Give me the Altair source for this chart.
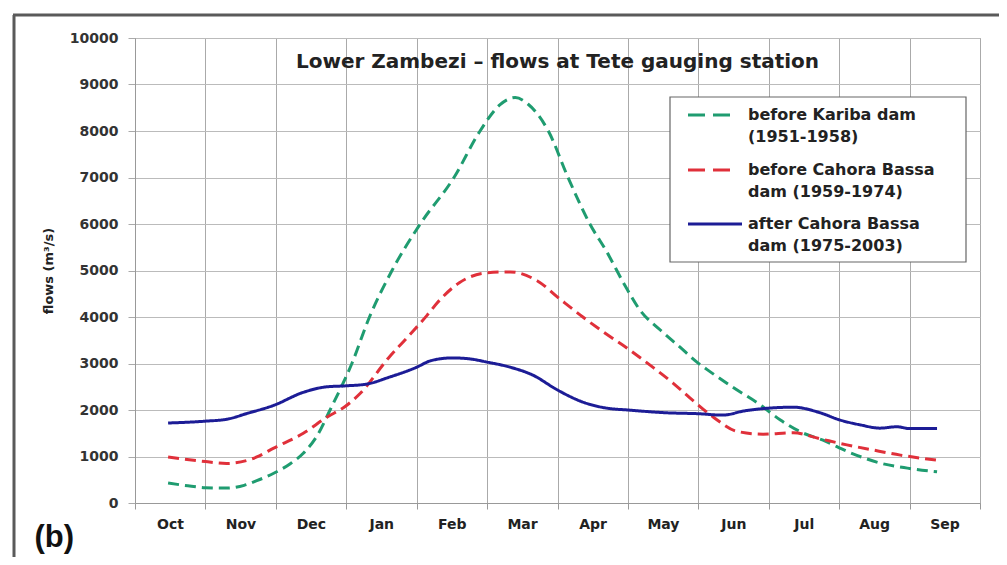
import altair as alt
import pandas as pd

chart_title = "Lower Zambezi – flows at Tete gauging station"
months = ["Oct", "Nov", "Dec", "Jan", "Feb", "Mar", "Apr", "May", "Jun", "Jul", "Aug", "Sep"]
series_lines = [
    ["before Kariba dam", "(1951-1958)"],
    ["before Cahora Bassa", "dam (1959-1974)"],
    ["after Cahora Bassa", "dam (1975-2003)"],
]
series_names = [" ".join(s) for s in series_lines]
series_colors = ["#1f9c70", "#e0303a", "#1c1c96"]
series_dash = [[11, 6], [11, 6], [1, 0]]

# position in months from start of October (Oct centre = 0.5)
kariba_pos = [0.47, 0.75, 1.0, 1.3, 1.55, 1.73, 1.97, 2.2, 2.39, 2.6, 2.77, 3.08, 3.33, 3.65,
              4.05, 4.53, 4.9, 5.18, 5.4, 5.58, 5.87, 6.15, 6.46, 6.7, 6.95, 7.17, 7.46, 7.74,
              7.98, 8.17, 8.49, 8.88, 9.16, 9.45, 9.77, 10.16, 10.58, 10.97, 11.39]
kariba_flow = [430, 370, 330, 320, 380, 480, 640, 840, 1070, 1480, 2000, 3000, 4000, 5000,
               6000, 7000, 8000, 8560, 8720, 8580, 8000, 7000, 6000, 5400, 4700, 4150, 3720, 3350,
               3030, 2820, 2490, 2110, 1790, 1530, 1350, 1080, 860, 750, 670]

cahora_pre_pos = [0.47, 1.0, 1.3, 1.73, 1.97, 2.39, 2.73, 2.98, 3.2, 3.6, 3.86, 4.15, 4.29, 4.6,
                  4.99, 5.33, 5.71, 6.04, 6.36, 6.65, 6.99, 7.31, 7.64, 7.88, 8.21, 8.55, 8.92,
                  9.35, 9.73, 10.11, 10.48, 10.87, 11.39]
cahora_pre_flow = [990, 890, 850, 990, 1180, 1500, 1850, 2070, 2360, 3120, 3550, 4040, 4300, 4730,
                   4950, 4970, 4780, 4380, 4000, 3680, 3330, 2970, 2580, 2260, 1850, 1540, 1480,
                   1510, 1380, 1250, 1140, 1030, 920]

cahora_post_pos = [0.47, 1.0, 1.3, 1.6, 1.97, 2.39, 2.73, 3.0, 3.3, 3.6, 4.0, 4.2, 4.5, 4.75,
                   5.0, 5.33, 5.65, 6.0, 6.36, 6.7, 7.0, 7.55, 8.0, 8.35, 8.65, 9.0, 9.35, 9.73,
                   10.0, 10.3, 10.58, 10.82, 11.0, 11.39]
cahora_post_flow = [1720, 1760, 1800, 1930, 2100, 2380, 2500, 2520, 2560, 2700, 2920, 3060, 3120, 3100,
                    3030, 2920, 2750, 2430, 2170, 2040, 2000, 1940, 1920, 1890, 1980, 2040, 2060, 1940,
                    1790, 1680, 1610, 1640, 1600, 1600]

rows = []
for name, pos, flow in [
    (series_names[0], kariba_pos, kariba_flow),
    (series_names[1], cahora_pre_pos, cahora_pre_flow),
    (series_names[2], cahora_post_pos, cahora_post_flow),
]:
    for p, f in zip(pos, flow):
        rows.append({"series": name, "m": p, "flow": f})
df = pd.DataFrame(rows)

month_expr = "[" + ",".join("'%s'" % m for m in months) + ",''][datum.value]"

FONT = "DejaVu Sans"
W, H = 845, 465

lines = alt.Chart(df).mark_line(strokeWidth=3, interpolate="monotone").encode(
    x=alt.X(
        "m:Q",
        scale=alt.Scale(domain=[0, 12], nice=False, zero=False),
        axis=alt.Axis(
            values=list(range(13)),
            labelExpr=month_expr,
            labelOffset=35,
            labelFlush=False,
            labelOverlap=False,
            labelPadding=8,
            labelFontSize=14,
            labelFontWeight="bold",
            labelColor="#222",
            tickSize=6,
            tickColor="#999",
            domainColor="#999",
            gridColor="#aaaaaa",
            title="(b)",
            titleFontSize=31,
            titleFontWeight="bold",
            titleFont="Liberation Sans",
            titleColor="#111",
            titleAlign="left",
            titleBaseline="middle",
            titleAnchor="start",
            titleX=-101,
            titleY=34,
        ),
    ),
    y=alt.Y(
        "flow:Q",
        scale=alt.Scale(domain=[0, 10000], nice=False),
        axis=alt.Axis(
            values=list(range(0, 10001, 1000)),
            format="d",
            labelFontSize=14,
            labelFontWeight="bold",
            labelColor="#333",
            labelPadding=10,
            tickSize=7,
            tickColor="#aaa",
            domainColor="#999",
            gridColor="#bbbbbb",
            title="flows (m³/s)",
            titleFontSize=13,
            titleFontWeight="bold",
            titleColor="#222",
            titlePadding=14,
        ),
    ),
    color=alt.Color(
        "series:N",
        scale=alt.Scale(domain=series_names, range=series_colors),
        legend=None,
    ),
    strokeDash=alt.StrokeDash(
        "series:N",
        scale=alt.Scale(domain=series_names, range=series_dash),
        legend=None,
    ),
)

one = pd.DataFrame({"k": [0]})

# chart title, drawn inside the plot area
title_text = alt.Chart(one).mark_text(
    text=chart_title, align="center", baseline="middle",
    fontSize=20, fontWeight="bold", color="#222", font=FONT,
).encode(x=alt.value(W / 2), y=alt.value(24))

# hand-built legend box (pixel positions inside the plot area)
legend_box = alt.Chart(one).mark_rect(fill="white", stroke="#666", strokeWidth=1.2).encode(
    x=alt.value(535), x2=alt.value(831), y=alt.value(59), y2=alt.value(224)
)
legend_layers = [legend_box]
entry_y = [77, 132, 186]
for i in range(3):
    sym_end = 607 if i == 2 else 596
    dash = [17, 8] if i < 2 else [1, 0]
    legend_layers.append(
        alt.Chart(one).mark_rule(color=series_colors[i], strokeWidth=3, strokeDash=dash).encode(
            x=alt.value(553), x2=alt.value(sym_end), y=alt.value(entry_y[i])
        )
    )
    legend_layers.append(
        alt.Chart(one).mark_text(
            text=series_lines[i], align="left", baseline="middle", lineHeight=22,
            fontSize=16, fontWeight="bold", color="#222", font=FONT,
        ).encode(x=alt.value(613), y=alt.value(entry_y[i]))
    )

# outer frame of the figure panel
frame_left = alt.Chart(one).mark_rule(color="#5a5a5a", strokeWidth=3).encode(
    x=alt.value(-121), y=alt.value(-23), y2=alt.value(520)
)
frame_top = alt.Chart(one).mark_rule(color="#5a5a5a", strokeWidth=3).encode(
    x=alt.value(-122), x2=alt.value(880), y=alt.value(-23)
)

chart = alt.layer(lines, title_text, *legend_layers, frame_left, frame_top).properties(
    width=W,
    height=H,
    autosize=alt.AutoSizeParams(type="none"),
    padding={"left": 127, "top": 30, "right": 19, "bottom": 54},
).configure(
    font=FONT,
    background="white",
).configure_view(
    stroke="#999",
    strokeWidth=1,
)

chart.save("out.html", embed_options={"renderer": "svg", "actions": False})
